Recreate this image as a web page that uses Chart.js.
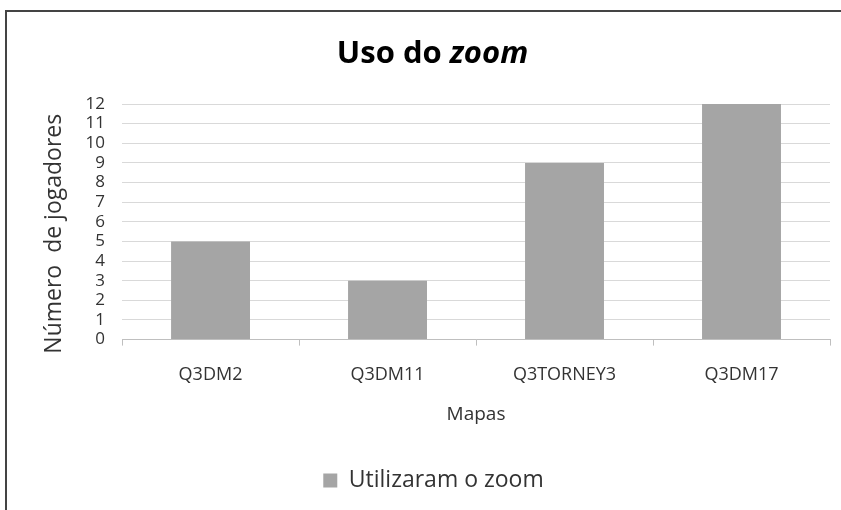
<!DOCTYPE html>
<html>
<head>
<meta charset="utf-8">
<script src="https://cdn.jsdelivr.net/npm/chart.js@4/dist/chart.umd.min.js"></script>
<style>
  body { margin: 0; background: #fff; }
  #wrap { position: relative; width: 841px; height: 510px; overflow: hidden; }
  #frame { position: absolute; left: 5px; top: 10px; width: 900px; height: 600px;
           border-left: 2px solid #444; border-top: 2px solid #444; }
  #title { position: absolute; left: 12px; width: 841px; top: 30px; text-align: center;
           font-family: 'Open Sans', sans-serif; font-weight: bold; font-size: 31px; color: #000; }
  canvas { position: absolute; left: 0; top: 0; }
</style>
</head>
<body>
<div id="wrap">
  <div id="frame"></div>
  <canvas id="chart1" width="841" height="510"></canvas>
  <div id="title">Uso do <i>zoom</i></div>
</div>
<script>
const mapas = ['Q3DM2', 'Q3DM11', 'Q3TORNEY3', 'Q3DM17'];
const jogadores = [5, 3, 9, 12];
const serieNome = 'Utilizaram o zoom';

const textColor = '#333333';

const ctx1 = document.getElementById('chart1');
const myChart = new Chart(ctx1, {
    type: 'bar',
    data: {
        labels: mapas,
        datasets: [{
            label: serieNome,
            data: jogadores,
            backgroundColor: '#a5a5a5'
        }]
    },
    options: {
        responsive: false,
        animation: false,
        categoryPercentage: 1,
        barPercentage: .446,
        layout: {
            padding: { top: 104, right: 11, left: 37, bottom: 8 }
        },
        scales: {
            y: {
                min: 0,
                max: 12,
                ticks: {
                    stepSize: 1,
                    autoSkip: false,
                    color: textColor,
                    padding: 17,
                    font: { family: 'Open Sans', size: 17 }
                },
                grid: { color: '#d9d9d9', drawTicks: false },
                border: { display: false },
                title: {
                    display: true,
                    // trailing spaces nudge the rotated title down a bit
                    text: 'Número  de jogadores    ',
                    color: textColor,
                    padding: { top: 4, bottom: 0 },
                    font: { family: 'Open Sans', size: 23 }
                }
            },
            x: {
                ticks: {
                    color: textColor,
                    padding: 18,
                    font: { family: 'Open Sans', size: 18 }
                },
                grid: { offset: true, drawOnChartArea: false, tickLength: 6, color: '#bfbfbf' },
                border: { color: '#bfbfbf' },
                title: {
                    display: true,
                    text: 'Mapas',
                    color: textColor,
                    padding: { top: 0, bottom: 33 },
                    font: { family: 'Open Sans', size: 19 }
                }
            }
        },
        plugins: {
            title: { display: false },
            tooltip: { enabled: false },
            legend: {
                position: 'bottom',
                labels: {
                    color: textColor,
                    boxWidth: 14,
                    boxHeight: 14,
                    padding: 10,
                    font: { family: 'Open Sans', size: 23 }
                }
            }
        }
    }
});
</script>
</body>
</html>
